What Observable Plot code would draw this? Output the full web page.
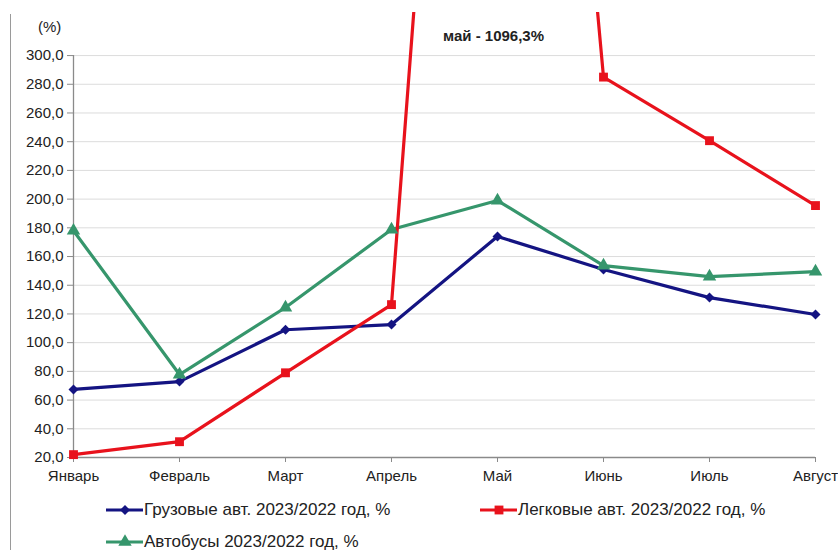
<!DOCTYPE html>
<html>
<head>
<meta charset="utf-8">
<script src="https://cdn.jsdelivr.net/npm/d3@7"></script>
<script src="https://cdn.jsdelivr.net/npm/@observablehq/plot@0.6"></script>
<style>
  html, body { margin: 0; padding: 0; background: #fff; }
  body { width: 838px; height: 550px; position: relative; overflow: hidden; font-family: "Liberation Sans", Arial, sans-serif; color: #222; }
  #chart { position: absolute; left: 0; top: 0; }
  #chart svg { overflow: visible; }
  .frame { position: absolute; left: 10px; top: 14px; width: 1px; height: 540px; background: #9a9a9a; }
  .unit { position: absolute; left: 38px; top: 18px; font-size: 15px; }
  .leg { position: absolute; display: flex; align-items: center; font-size: 17px; white-space: nowrap; }
  .leg svg { display: block; margin-right: 1px; }
</style>
</head>
<body>
<div class="frame"></div>
<div id="chart"></div>
<div class="unit">(%)</div>
<div id="legend"></div>
<script>
const months = ["Январь", "Февраль", "Март", "Апрель", "Май", "Июнь", "Июль", "Август"];
const trucks = [67.4, 72.9, 109.0, 112.6, 174.0, 151.0, 131.4, 119.6];
const cars = [22.0, 31.0, 79.0, 126.5, 1096.3, 285.0, 240.7, 195.5];
const buses = [178.0, 77.8, 124.5, 178.8, 199.0, 153.7, 146.0, 149.5];
const yTicks = [20, 40, 60, 80, 100, 120, 140, 160, 180, 200, 220, 240, 260, 280, 300];
const seriesNames = ["Грузовые авт. 2023/2022 год, %", "Легковые авт. 2023/2022 год, %", "Автобусы 2023/2022 год, %"];
const seriesColors = ["#141482", "#e8121c", "#36966c"];
const seriesSymbols = ["diamond2", "square", "triangle"];
const annotation = "май - 1096,3%";

const yMax = 330;
const rows = (vals) => vals.map((v, i) => ({i, v}));
const fmt = d => d.toFixed(1).replace(".", ",");

const plot = Plot.plot({
  width: 838,
  height: 490,
  marginLeft: 73,
  marginRight: 23,
  marginTop: 12,
  marginBottom: 33,
  style: {fontFamily: "Liberation Sans, Arial, sans-serif", fontSize: "15px", color: "#222"},
  x: {type: "linear", domain: [0, months.length - 1]},
  y: {domain: [20, yMax]},
  marks: [
    Plot.gridY(yTicks, {stroke: "#dcdcdc", strokeOpacity: 1}),
    Plot.ruleY([20], {stroke: "#8a8a8a", strokeWidth: 1.3}),
    Plot.ruleX([0], {y1: 20, y2: 300, stroke: "#8a8a8a", strokeWidth: 1.3}),
    Plot.axisX({ticks: d3.range(months.length), tickFormat: i => months[i], tickSize: 5, tickPadding: 8, label: null, stroke: "#8a8a8a"}),
    Plot.axisY({ticks: yTicks, tickFormat: fmt, tickSize: 6, tickPadding: 4, label: null, stroke: "#8a8a8a"}),
    Plot.line(rows(trucks), {x: "i", y: "v", stroke: seriesColors[0], strokeWidth: 3.2}),
    Plot.line(rows(buses), {x: "i", y: "v", stroke: seriesColors[2], strokeWidth: 3.2}),
    Plot.line(rows(cars), {x: "i", y: "v", stroke: seriesColors[1], strokeWidth: 3.2, clip: true}),
    Plot.dot(rows(trucks), {x: "i", y: "v", symbol: seriesSymbols[0], fill: seriesColors[0], r: 4.5}),
    Plot.dot(rows(buses), {x: "i", y: "v", symbol: seriesSymbols[2], fill: seriesColors[2], r: 5}),
    Plot.dot(rows(cars).filter(d => d.v <= yMax), {x: "i", y: "v", symbol: seriesSymbols[1], fill: seriesColors[1], r: 5}),
    Plot.text([annotation], {x: 4, frameAnchor: "top", dy: 18, dx: -4, text: d => d, fontWeight: "bold", fontSize: 15, fill: "#222"})
  ]
});
document.getElementById("chart").appendChild(plot);

// legend
const legendPos = [[106, 510], [480, 510], [106, 542]];
const legend = document.getElementById("legend");
seriesNames.forEach((name, k) => {
  const div = document.createElement("div");
  div.className = "leg";
  div.style.left = legendPos[k][0] + "px";
  div.style.top = (legendPos[k][1] - 10) + "px";
  const sym = d3.symbol(k === 0 ? d3.symbolDiamond2 : k === 1 ? d3.symbolSquare : d3.symbolTriangle, k === 0 ? 64 : 78)();
  div.innerHTML = `<svg width="37" height="20"><line x1="0" x2="37" y1="10" y2="10" stroke="${seriesColors[k]}" stroke-width="3"/><path transform="translate(19,10)" d="${sym}" fill="${seriesColors[k]}"/></svg><span>${name}</span>`;
  legend.appendChild(div);
});
</script>
</body>
</html>
